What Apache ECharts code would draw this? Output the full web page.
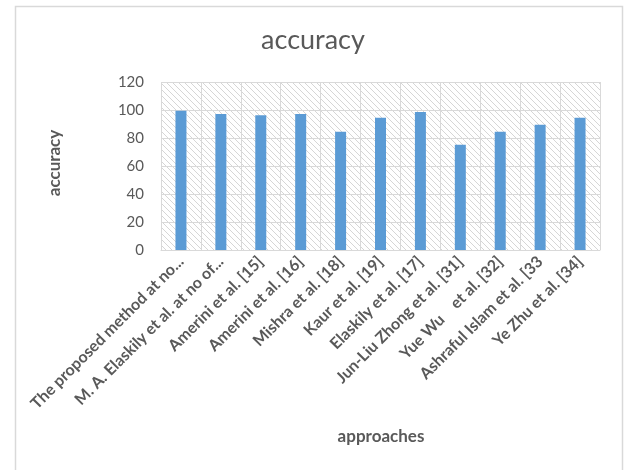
<!DOCTYPE html>
<html>
<head>
<meta charset="utf-8">
<script src="https://cdn.jsdelivr.net/npm/echarts@6/dist/echarts.min.js"></script>
<style>
  html, body { margin: 0; padding: 0; background: #fff; }
  #chart { width: 626px; height: 470px; }
</style>
</head>
<body>
<div id="chart"></div>
<script>
// Accuracy reported by each approach
const approaches = [
  'The proposed method at no...',
  'M. A. Elaskily et al. at no of...',
  'Amerini et al. [15]',
  'Amerini et al. [16]',
  'Mishra et al. [18]',
  'Kaur et al. [19]',
  'Elaskily et al. [17]',
  'Jun-Liu Zhong et al. [31]',
  'Yue Wu    et al. [32]',
  'Ashraful Islam et al. [33',
  'Ye Zhu et al. [34]'
];
const accuracy = [99.5, 97.1, 96.2, 97.1, 84.5, 94.5, 98.6, 75.2, 84.5, 89.5, 94.5];
const yTicks = [0, 20, 40, 60, 80, 100, 120];

// Diagonal hatch tile for the plot background
function hatchTile() {
  const size = 6;
  const c = document.createElement('canvas');
  c.width = size; c.height = size;
  const g = c.getContext('2d');
  g.fillStyle = '#ffffff';
  g.fillRect(0, 0, size, size);
  g.strokeStyle = '#d6d6d6';
  g.lineWidth = 1;
  g.beginPath();
  g.moveTo(0, 0); g.lineTo(size, size);
  g.moveTo(-size, 0); g.lineTo(size, size * 2);
  g.moveTo(0, -size); g.lineTo(size * 2, size);
  g.stroke();
  return c;
}

const chart = echarts.init(document.getElementById('chart'), null, { renderer: 'canvas' });
const fontFamily = 'Lato, "Open Sans", sans-serif';
const textGrey = '#595959';

chart.setOption({
  backgroundColor: '#ffffff',
  animation: false,
  textStyle: { fontFamily: fontFamily },
  title: {
    text: 'accuracy',
    left: 'center',
    top: 22,
    textStyle: { fontSize: 27, fontWeight: 'normal', color: textGrey, fontFamily: fontFamily }
  },
  graphic: [
    {
      type: 'rect',
      shape: { x: 15.5, y: 6.5, width: 607, height: 480 },
      style: { fill: 'none', stroke: '#d9d9d9', lineWidth: 1.5 },
      silent: true,
      z: -1
    },
    {
      // vertical axis title
      type: 'text',
      x: 55,
      y: 163,
      rotation: Math.PI / 2,
      style: {
        text: 'accuracy',
        align: 'center',
        verticalAlign: 'middle',
        fill: textGrey,
        font: 'bold 17px ' + fontFamily
      },
      silent: true
    },
    {
      // horizontal axis title
      type: 'text',
      x: 381,
      y: 437,
      style: {
        text: 'approaches',
        align: 'center',
        verticalAlign: 'middle',
        fill: textGrey,
        font: 'bold 17px ' + fontFamily
      },
      silent: true
    }
  ],
  grid: {
    left: 161,
    right: 26,
    top: 82,
    bottom: 220,
    show: true,
    backgroundColor: { image: hatchTile(), repeat: 'repeat' },
    borderWidth: 0
  },
  xAxis: {
    type: 'category',
    data: approaches,
    axisLine: { lineStyle: { color: '#d9d9d9', width: 1 } },
    axisTick: { show: false },
    splitLine: { show: true, interval: 0, lineStyle: { color: '#d9d9d9', width: 1 } },
    axisLabel: {
      interval: 0,
      rotate: 45,
      margin: 9,
      fontSize: 16,
      fontWeight: 'bold',
      color: textGrey,
      fontFamily: fontFamily
    }
  },
  yAxis: {
    type: 'value',
    min: yTicks[0],
    max: yTicks[yTicks.length - 1],
    interval: 20,
    axisLine: { show: false },
    axisTick: { show: false },
    splitLine: { show: true, lineStyle: { color: '#d9d9d9', width: 1 } },
    axisLabel: { fontSize: 15, color: textGrey, margin: 17, fontFamily: fontFamily }
  },
  series: [
    {
      type: 'bar',
      data: accuracy,
      barWidth: 11,
      itemStyle: { color: '#5b9bd5' }
    }
  ]
});
</script>
</body>
</html>
